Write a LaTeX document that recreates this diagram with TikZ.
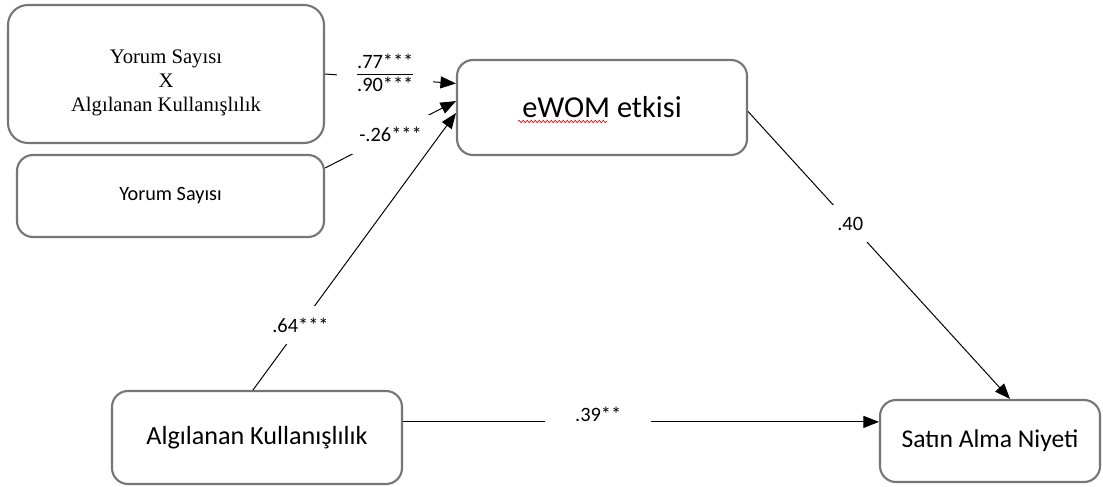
\documentclass[tikz,border=0pt]{standalone}
\usepackage{fontspec}
\setmainfont{Carlito}
\newfontfamily\timesfont{Liberation Serif}
\usetikzlibrary{arrows.meta,decorations.pathmorphing}
\definecolor{boxgray}{RGB}{118,118,118}

\begin{document}
\begin{tikzpicture}[
    varbox/.style={draw=boxgray, line width=1.5pt, rounded corners=0.4cm, fill=white, align=center, inner sep=0pt},
    link/.style={-{Triangle[length=11pt,width=8.5pt]}, line width=0.7pt},
    coef/.style={fill=white, inner sep=0.3cm, font=\fontsize{14.5}{17}\selectfont}
  ]

        \useasboundingbox (0,0) rectangle (27.575,12.15);

        %Interaction term
        \node [varbox, minimum width=7.9cm, minimum height=3.45cm, rounded corners=0.5cm,
               font=\timesfont\fontsize{14.7}{17}\selectfont] (inter) at (4.15,10.3)
              {\rule{0pt}{22pt}Yorum Sayısı\\X\\Algılanan Kullanışlılık};

        %Yorum Sayisi
        \node [varbox, minimum width=7.675cm, minimum height=2.05cm,
               font=\fontsize{14.4}{17}\selectfont] (yorum) at (4.2625,7.25) {Yorum Sayısı};

        %eWOM etkisi
        \node [varbox, minimum width=7.25cm, minimum height=2.375cm,
               font=\fontsize{21.6}{26}\selectfont] (ewom) at (15.05,9.4625) {eWOM etkisi};
        \draw [red, line width=0.5pt, decorate, decoration={snake, segment length=0.1cm, amplitude=0.03cm}]
              ([xshift=-2.1cm,yshift=-0.35cm]ewom.center) -- ([xshift=0.12cm,yshift=-0.35cm]ewom.center);

        %Algilanan Kullanislilik
        \node [varbox, minimum width=7.25cm, minimum height=2.325cm,
               font=\fontsize{18.6}{22}\selectfont] (alg) at (6.425,1.2125) {Algılanan Kullanışlılık};

        %Satin Alma Niyeti
        \node [varbox, minimum width=5.5cm, minimum height=2.05cm,
               font=\fontsize{18.2}{22}\selectfont] (sat) at (24.75,1.125) {Satın Alma Niyeti};

        %Paths into eWOM
        \setlength{\arrayrulewidth}{0.8pt}
        \draw [link] (inter.east) -- node [coef, pos=0.46, yshift=0.08cm, inner xsep=0.5cm, inner ysep=2pt]
              {\begin{tabular}{@{}c@{}}.77***\\[-1pt]\hline .90***\end{tabular}} ([yshift=0.6cm]ewom.west);
        \draw [link] ([yshift=0.7cm]yorum.east) -- node [coef, pos=0.5] {-.26***} ([yshift=0.16cm]ewom.west);
        \draw [link] ([xshift=-0.1cm]alg.north) -- node [coef, pos=0.234] {.64***} ([yshift=-0.14cm]ewom.west);

        %Paths into Satin Alma Niyeti
        \draw [link] ([yshift=-0.1cm]ewom.east) -- node [coef, pos=0.39] {.40} ([xshift=0.5cm]sat.north);
        \draw [link] ([yshift=0.39cm]alg.east) -- node [coef, pos=0.41, yshift=0.2cm, inner xsep=0.75cm, inner ysep=0.1cm]
              {.39**} ([yshift=0.39cm]alg.east -| sat.west);

\end{tikzpicture}
\end{document}
